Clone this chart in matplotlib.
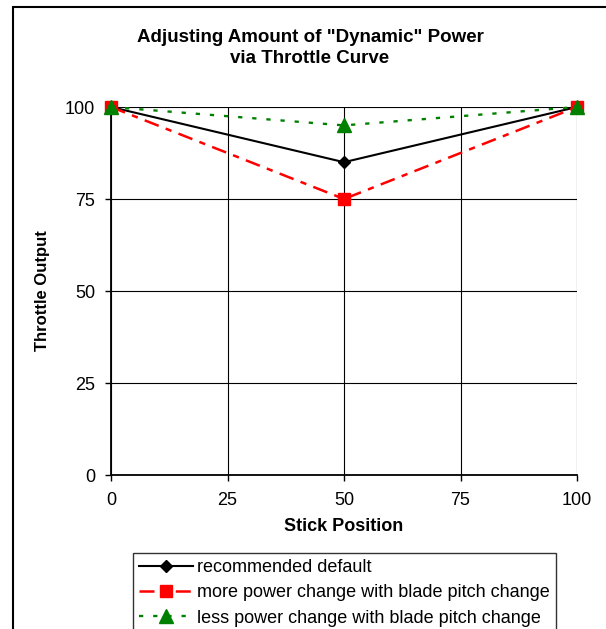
import matplotlib
matplotlib.use("Agg")
import matplotlib.pyplot as plt
from matplotlib.patches import Rectangle

plt.rcParams['font.family'] = ['Liberation Sans', 'DejaVu Sans']

stick = [0, 50, 100]
recommended = [100, 85, 100]
more_power = [100, 75, 100]
less_power = [100, 95, 100]
ticks = [0, 25, 50, 75, 100]
title = 'Adjusting Amount of "Dynamic" Power\nvia Throttle Curve'
labels = ['recommended default',
          'more power change with blade pitch change',
          'less power change with blade pitch change']

W, H = 606, 629
fig = plt.figure(figsize=(W / 100, H / 100), dpi=100)
ax = fig.add_axes([111 / W, 1 - 475 / H, (577 - 111) / W, (475 - 107) / H])

ax.plot(stick, recommended, color='black', lw=1.5, marker='D', ms=6.5,
        label=labels[0], zorder=3, clip_on=False)
ax.plot(stick, more_power, color='#ff0000', lw=1.8, dashes=(6, 3, 2.5, 3),
        marker='s', ms=8, label=labels[1], zorder=3, clip_on=False)
ax.plot(stick, less_power, color='#008000', lw=1.7, dashes=(1.8, 4.2),
        marker='^', ms=10, label=labels[2], zorder=4, clip_on=False)

ax.set_xlim(0, 100)
ax.set_ylim(0, 100)
ax.set_xticks(ticks)
ax.set_yticks(ticks)
ax.grid(True, color='black', lw=0.8)
ax.set_axisbelow(True)
for s in ['top', 'right']:
    ax.spines[s].set_visible(False)
for s in ['left', 'bottom']:
    ax.spines[s].set_linewidth(1.3)
ax.tick_params(axis='x', direction='out', length=4, width=1, labelsize=13, pad=8)
ax.tick_params(axis='y', direction='out', length=4, width=1, labelsize=13, pad=7.5)

ax.set_xlabel('Stick Position', fontsize=13, fontweight='bold', labelpad=7)
ax.set_ylabel('Throttle Output', fontsize=12, fontweight='bold', labelpad=10.5)

fig.text(310 / W, 1 - 48 / H, title, ha='center', va='center',
         fontsize=13.5, fontweight='bold', linespacing=1.3)

leg = fig.legend(loc='upper left', bbox_to_anchor=(133 / W, 1 - 553 / H),
                 fontsize=13, frameon=True, fancybox=False, handlelength=3.0,
                 handletextpad=0.2, borderpad=0.35, labelspacing=0.45,
                 borderaxespad=0)
leg.get_frame().set_edgecolor('black')
leg.get_frame().set_linewidth(1)

fig.patches.append(Rectangle((13 / W, -0.1), 1.5, 1.1 - 7 / H,
                             transform=fig.transFigure, fill=False,
                             edgecolor='black', lw=1.5))

fig.savefig('out.png', dpi=100)
